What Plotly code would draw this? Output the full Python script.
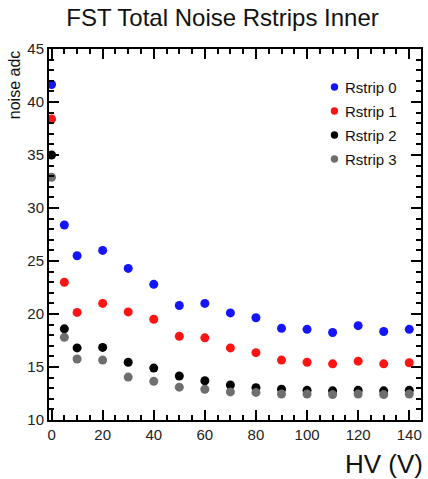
import plotly.graph_objects as go

# HV scan points (V) and mean noise (ADC counts) per R-strip
hv = [0, 5, 10, 20, 30, 40, 50, 60, 70, 80, 90, 100, 110, 120, 130, 140]
rstrip0 = [41.65, 28.4, 25.5, 26.0, 24.3, 22.8, 20.8, 21.0, 20.1, 19.65, 18.65, 18.55, 18.25, 18.9, 18.35, 18.55]
rstrip1 = [38.4, 23.0, 20.15, 21.0, 20.2, 19.5, 17.9, 17.75, 16.8, 16.35, 15.65, 15.45, 15.3, 15.55, 15.3, 15.4]
rstrip2 = [35.0, 18.6, 16.8, 16.85, 15.45, 14.9, 14.15, 13.7, 13.3, 13.05, 12.9, 12.8, 12.75, 12.8, 12.75, 12.8]
rstrip3 = [32.9, 17.8, 15.75, 15.65, 14.05, 13.65, 13.1, 12.9, 12.65, 12.6, 12.45, 12.45, 12.4, 12.45, 12.4, 12.45]

series_names = ["Rstrip 0", "Rstrip 1", "Rstrip 2", "Rstrip 3"]
series_values = [rstrip0, rstrip1, rstrip2, rstrip3]
series_colors = ["#1414ff", "#ff1414", "#000000", "#6e6e6e"]

x_range = [-1.0, 144.6]
y_range = [10, 45]

W, H = 428, 479
L, R, T, B = 49, 423, 49, 420  # plot frame in pixels
FONT = "Liberation Sans, Arial, Helvetica, sans-serif"


def px_x(p):
    return (p - L) / (R - L)


def px_y(p):
    return (B - p) / (B - T)


fig = go.Figure()
for name, vals, col in zip(series_names, series_values, series_colors):
    fig.add_trace(go.Scatter(
        x=hv, y=vals, mode="markers", name=name,
        marker=dict(symbol="circle", size=9, color=col, line=dict(width=0)),
        cliponaxis=False, showlegend=False,
    ))

# Legend drawn as markers + labels in the upper right
legend_y = [87, 111, 135, 159]
shapes = []
annotations = []
for name, col, yy in zip(series_names, series_colors, legend_y):
    shapes.append(dict(
        type="circle", xref="paper", yref="paper",
        xsizemode="pixel", ysizemode="pixel",
        xanchor=px_x(336), yanchor=px_y(yy),
        x0=-3.7, x1=3.7, y0=-3.7, y1=3.7,
        fillcolor=col, line=dict(width=0),
    ))
    annotations.append(dict(
        text=name, xref="paper", yref="paper",
        x=px_x(345), y=px_y(yy), xanchor="left", yanchor="middle",
        showarrow=False, font=dict(family=FONT, size=15, color="#111111"),
    ))

# Axis titles, ROOT style (right/top aligned)
annotations.append(dict(
    text="HV (V)", xref="paper", yref="paper",
    x=px_x(427), y=px_y(464), xanchor="right", yanchor="middle",
    showarrow=False, font=dict(family=FONT, size=26, color="#111111"),
))
annotations.append(dict(
    text="noise adc", xref="paper", yref="paper",
    x=px_x(14), y=px_y(85), xanchor="center", yanchor="middle",
    textangle=-90, showarrow=False,
    font=dict(family=FONT, size=16, color="#111111"),
))

tick_style = dict(
    ticks="inside", ticklen=10, tickwidth=2, tickcolor="black",
    showgrid=False, zeroline=False,
    showline=True, linecolor="black", linewidth=2, mirror="allticks",
    tickfont=dict(family=FONT, size=15, color="#222222"),
)
x_minor = dict(dtick=5, ticklen=5, tickwidth=2, ticks="inside", tickcolor="black")
y_minor = dict(dtick=1, ticklen=5, tickwidth=2, ticks="inside", tickcolor="black")

fig.update_layout(
    width=W, height=H,
    margin=dict(l=L, r=W - R, t=T, b=H - B, pad=0),
    paper_bgcolor="white", plot_bgcolor="white",
    title=dict(
        text="FST Total Noise Rstrips Inner",
        xref="container", yref="container",
        x=222.5 / W, y=1 - 18 / H, xanchor="center", yanchor="middle",
        font=dict(family=FONT, size=24, color="#111111"),
    ),
    xaxis=dict(range=x_range, tick0=0, dtick=20, minor=x_minor, **tick_style),
    yaxis=dict(range=y_range, tick0=10, dtick=5, minor=y_minor, **tick_style),
    shapes=shapes,
    annotations=annotations,
    showlegend=False,
)

fig.write_html("out.html")
